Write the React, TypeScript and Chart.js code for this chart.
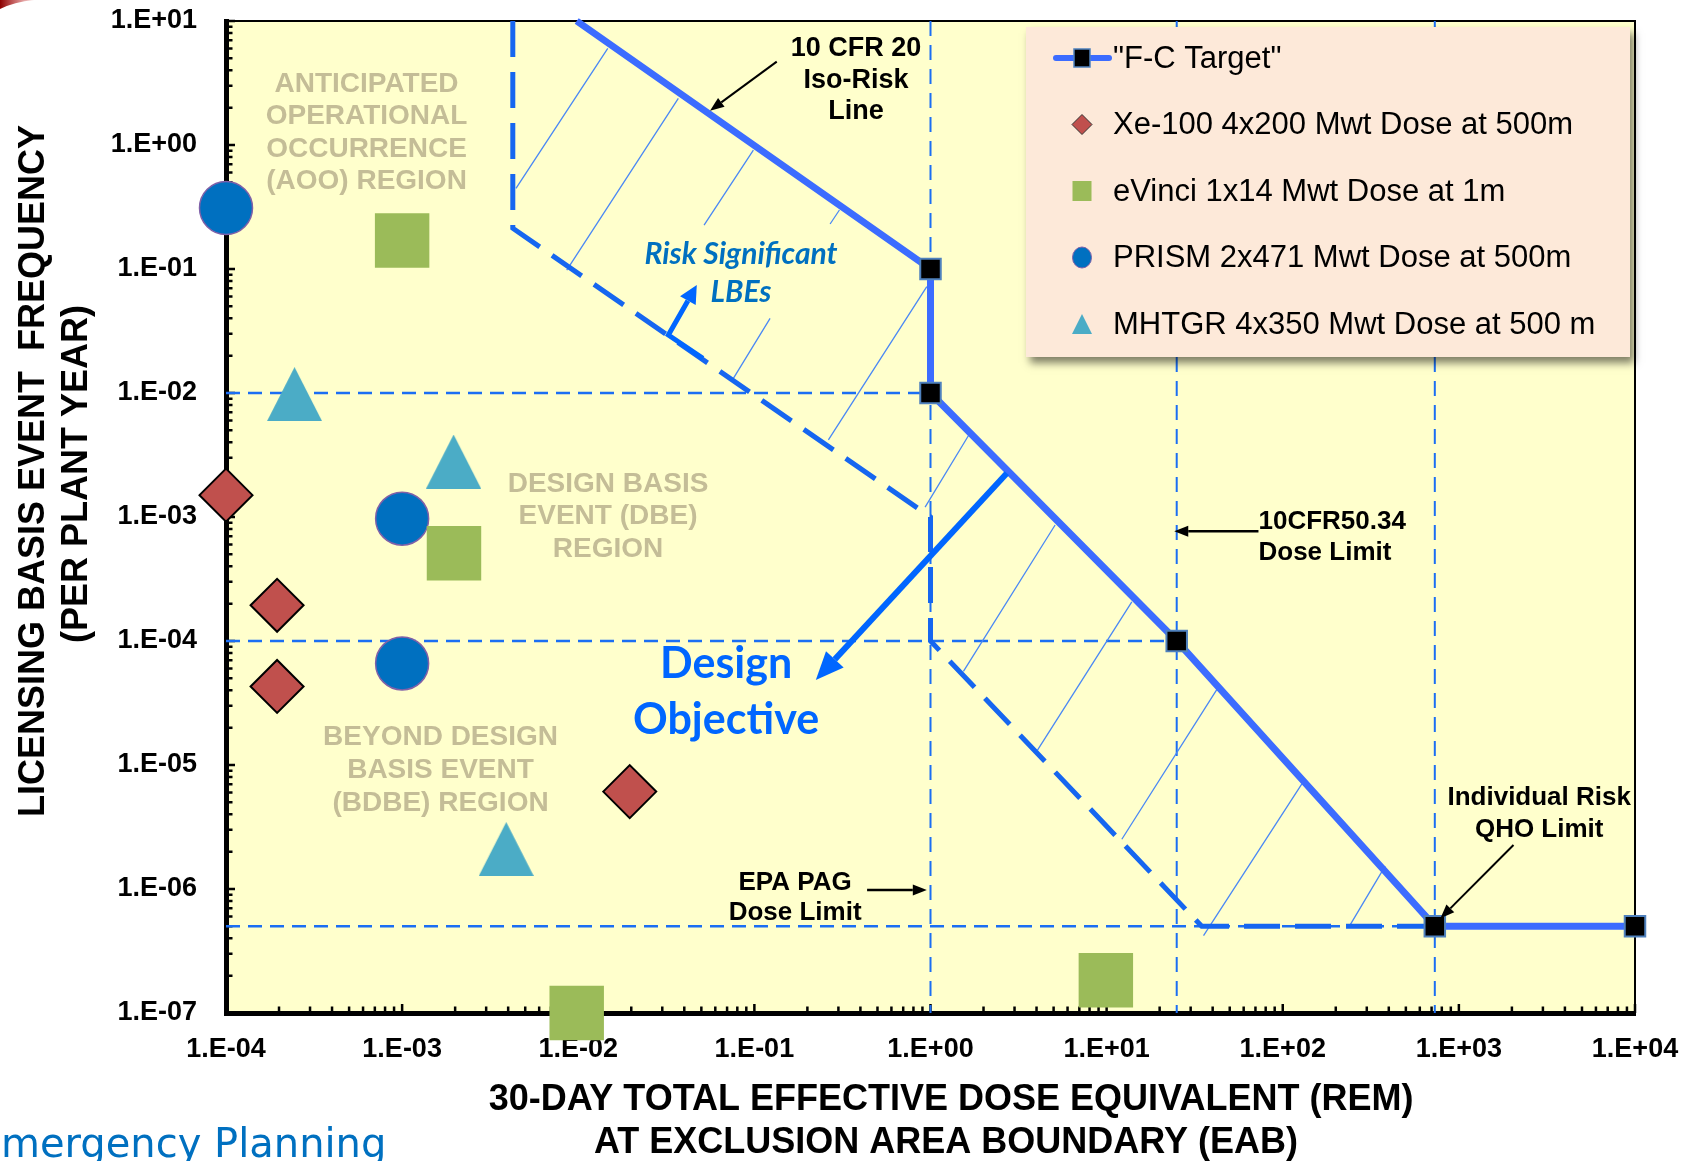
import React, { useEffect, useRef } from "react";
import { Chart, registerables } from "chart.js";

Chart.register(...registerables);

// ---------------- chart values ----------------
const X_TICK_VALUES = [1e-4, 1e-3, 1e-2, 1e-1, 1e0, 1e1, 1e2, 1e3, 1e4];
const Y_TICK_VALUES = [1e-7, 1e-6, 1e-5, 1e-4, 1e-3, 1e-2, 1e-1, 1e0, 1e1];

const FC_LABEL = '"F-C Target"';
const XE100_LABEL = "Xe-100 4x200 Mwt Dose at 500m";
const EVINCI_LABEL = "eVinci 1x14 Mwt Dose at 1m";
const PRISM_LABEL = "PRISM 2x471 Mwt Dose at 500m";
const MHTGR_LABEL = "MHTGR 4x350 Mwt Dose at 500 m";

const XE100_DOSE = [1e-4, 1.95e-4, 1.95e-4, 1.96e-2];
const XE100_FREQ = [1.5e-3, 1.94e-4, 4.3e-5, 6.1e-6];
const EVINCI_DOSE = [1e-3, 1.97e-3, 9.8e-3, 9.9];
const EVINCI_FREQ = [0.17, 5.1e-4, 1e-7, 1.84e-7];
const PRISM_DOSE = [1e-4, 1e-3, 1e-3];
const PRISM_FREQ = [0.31, 9.7e-4, 6.6e-5];
const MHTGR_DOSE = [2.45e-4, 1.96e-3, 3.9e-3];
const MHTGR_FREQ = [9.8e-3, 2.8e-3, 2.1e-6];

const FC_DOSE = [0.0098, 1, 1, 25, 730, 1e4];
const FC_FREQ = [10, 0.1, 0.01, 1e-4, 5e-7, 5e-7];
const FC_MARKER = [0, 1, 1, 1, 1, 1];

const RS_BOUNDARY_DOSE = [4.25e-3, 4.25e-3, 1, 1, 34.7, 730];
const RS_BOUNDARY_FREQ = [10, 0.213, 1e-3, 1e-4, 5e-7, 5e-7];

const HATCH_FROM_DOSE = [4.43e-3, 8.6e-3, 0.0518, 0.076, 0.2691, 0.2632, 0.9318, 1.538, 4.05, 12.2, 35.5, 241.4];
const HATCH_FROM_FREQ = [0.4475, 0.0981, 0.2263, 0.01314, 0.2306, 4.18e-3, 1.2e-3, 5.69e-5, 1.32e-5, 2.52e-6, 4.2e-7, 5.13e-7];
const HATCH_TO_DOSE = [0.01471, 0.037, 0.0987, 0.1228, 0.304, 0.9528, 1.641, 5.1, 13.9, 42.3, 128.4, 381.4];
const HATCH_TO_FREQ = [6.02, 2.38, 0.911, 0.04, 0.2991, 0.072, 4.52e-3, 8.62e-4, 2.07e-4, 4.08e-5, 7.04e-6, 1.53e-6];

const REF_FREQ_LEVELS = [1e-2, 1e-4, 5e-7];
const REF_FREQ_END_DOSE = [1, 25, 730];
const REF_DOSE_LEVELS = [1, 25, 730];

// ---------------- annotation texts & arrows (in data coordinates) ----------------
const SANS = '"Liberation Sans", Arial, Helvetica, sans-serif';
const HUMANIST = 'Lato, "Open Sans", sans-serif';

const NOTE_TEXTS = [
  { lines: ["10 CFR 20", "Iso-Risk", "Line"], dose: 0.378, freq: 5.22, step: 31.5, font: `bold 27px ${SANS}`, color: "#000", align: "center" },
  { lines: ["Risk Significant", "LBEs"], dose: 0.084, freq: 0.1091, step: 37.4, font: `italic bold 30px ${HUMANIST}`, color: "#0070C0", align: "center" },
  { lines: ["ANTICIPATED", "OPERATIONAL", "OCCURRENCE", "(AOO) REGION"], dose: 6.28e-4, freq: 2.69, step: 32.5, font: `bold 28px ${SANS}`, color: "#C4BD97", align: "center" },
  { lines: ["DESIGN BASIS", "EVENT (DBE)", "REGION"], dose: 0.01476, freq: 1.6e-3, step: 32.5, font: `bold 28px ${SANS}`, color: "#C4BD97", align: "center" },
  { lines: ["BEYOND DESIGN", "BASIS EVENT", "(BDBE) REGION"], dose: 1.652e-3, freq: 1.45e-5, step: 32.8, font: `bold 28px ${SANS}`, color: "#C4BD97", align: "center" },
  { lines: ["Design", "Objective"], dose: 0.0691, freq: 5.0e-5, step: 56, font: `bold 43px ${HUMANIST}`, color: "#0066FF", align: "center" },
  { lines: ["10CFR50.34", "Dose Limit"], dose: 72.8, freq: 8.06e-4, step: 31.4, font: `bold 26px ${SANS}`, color: "#000", align: "left" },
  { lines: ["EPA PAG", "Dose Limit"], dose: 0.1703, freq: 9.8e-7, step: 30, font: `bold 26px ${SANS}`, color: "#000", align: "center" },
  { lines: ["Individual Risk", "QHO Limit"], dose: 2858, freq: 4.76e-6, step: 31.7, font: `bold 26px ${SANS}`, color: "#000", align: "center" },
];

const NOTE_ARROWS = [
  { path: [[0.134, 4.7], [0.056, 1.89]], width: 2, color: "#000", head: 14, headW: 11 },
  { path: [[0.051, 0.01905], [0.03248, 0.02936], [0.0471, 0.0743]], width: 5, color: "#0066FF", head: 18, headW: 18 },
  { path: [[2.713, 2.25e-3], [0.2233, 4.85e-5]], width: 6, color: "#0066FF", head: 28, headW: 24 },
  { path: [[72.8, 7.66e-4], [24.2, 7.66e-4]], width: 2.5, color: "#000", head: 14, headW: 11 },
  { path: [[0.4365, 9.8e-7], [0.953, 9.8e-7]], width: 2.5, color: "#000", head: 14, headW: 11 },
  { path: [[2042, 2.265e-6], [786, 5.8e-7]], width: 2, color: "#000", head: 14, headW: 11 },
];

const X_TITLE = ["30-DAY TOTAL EFFECTIVE DOSE EQUIVALENT (REM)", "AT EXCLUSION AREA BOUNDARY (EAB)"];
const Y_TITLE = ["LICENSING BASIS EVENT  FREQUENCY", "(PER PLANT YEAR)"];
const FOOTER_TEXT = "Emergency Planning";

// ---------------- colours ----------------
const COL_FC = "#3C6CFF";
const COL_DASH = "#1B6EF3";
const COL_BOUND = "#1666F0";
const COL_HATCH = "#4A88F5";
const COL_XE = "#C0504D";
const COL_EV = "#9BBB59";
const COL_PRISM = "#0070C0";
const COL_MHTGR = "#4BACC6";

const W = 1688;
const H = 1161;

const fmtTick = (v: number) => {
  const e = Math.round(Math.log10(v));
  return `1.E${e < 0 ? "-" : "+"}${String(Math.abs(e)).padStart(2, "0")}`;
};

const pairs = (xs: number[], ys: number[]) => xs.map((x, i) => ({ x, y: ys[i] }));
const segs = (x1: number[], y1: number[], x2: number[], y2: number[]) =>
  x1.flatMap((x, i) => [
    { x, y: y1[i] },
    { x: x2[i], y: y2[i] },
    { x: x2[i], y: null as any },
  ]);

function triangleCanvas(w: number, h: number, color: string) {
  const c = document.createElement("canvas");
  c.width = w;
  c.height = h;
  const g = c.getContext("2d")!;
  g.fillStyle = color;
  g.beginPath();
  g.moveTo(w / 2, 0);
  g.lineTo(w, h);
  g.lineTo(0, h);
  g.closePath();
  g.fill();
  return c;
}

function drawArrow(ctx: CanvasRenderingContext2D, pts: number[][], width: number, color: string, head: number, headW: number) {
  const n = pts.length;
  const [x2, y2] = pts[n - 1];
  const [x1, y1] = pts[n - 2];
  const ang = Math.atan2(y2 - y1, x2 - x1);
  const bx = x2 - head * Math.cos(ang);
  const by = y2 - head * Math.sin(ang);
  ctx.save();
  ctx.strokeStyle = color;
  ctx.fillStyle = color;
  ctx.lineWidth = width;
  ctx.lineJoin = "miter";
  ctx.beginPath();
  ctx.moveTo(pts[0][0], pts[0][1]);
  for (let i = 1; i < n - 1; i++) ctx.lineTo(pts[i][0], pts[i][1]);
  ctx.lineTo(bx, by);
  ctx.stroke();
  ctx.beginPath();
  ctx.moveTo(x2, y2);
  ctx.lineTo(bx + (headW / 2) * Math.sin(ang), by - (headW / 2) * Math.cos(ang));
  ctx.lineTo(bx - (headW / 2) * Math.sin(ang), by + (headW / 2) * Math.cos(ang));
  ctx.closePath();
  ctx.fill();
  ctx.restore();
}

function legendMarker(ctx: CanvasRenderingContext2D, kind: string, x: number, y: number) {
  ctx.save();
  if (kind === "fc") {
    ctx.strokeStyle = COL_FC;
    ctx.lineWidth = 6;
    ctx.lineCap = "round";
    ctx.beginPath();
    ctx.moveTo(x - 26, y);
    ctx.lineTo(x + 27, y);
    ctx.stroke();
    ctx.fillStyle = "#000";
    ctx.fillRect(x - 8, y - 9, 16, 18);
    ctx.strokeStyle = "#4F81BD";
    ctx.lineWidth = 1.5;
    ctx.strokeRect(x - 8, y - 9, 16, 18);
  } else if (kind === "diamond") {
    ctx.fillStyle = COL_XE;
    ctx.strokeStyle = "#333";
    ctx.lineWidth = 1;
    ctx.beginPath();
    ctx.moveTo(x, y - 10);
    ctx.lineTo(x + 10, y);
    ctx.lineTo(x, y + 10);
    ctx.lineTo(x - 10, y);
    ctx.closePath();
    ctx.fill();
    ctx.stroke();
  } else if (kind === "square") {
    ctx.fillStyle = COL_EV;
    ctx.fillRect(x - 9.5, y - 10, 19, 20);
  } else if (kind === "circle") {
    ctx.fillStyle = COL_PRISM;
    ctx.strokeStyle = "#7F60A8";
    ctx.lineWidth = 1;
    ctx.beginPath();
    ctx.ellipse(x, y, 9.5, 10.5, 0, 0, Math.PI * 2);
    ctx.fill();
    ctx.stroke();
  } else if (kind === "triangle") {
    ctx.fillStyle = COL_MHTGR;
    ctx.beginPath();
    ctx.moveTo(x, y - 10);
    ctx.lineTo(x + 10, y + 10);
    ctx.lineTo(x - 10, y + 10);
    ctx.closePath();
    ctx.fill();
  }
  ctx.restore();
}

const decorPlugin = {
  id: "decor",
  beforeDraw(chart: any) {
    const { ctx, chartArea: a } = chart;
    ctx.save();
    ctx.fillStyle = "#ffffff";
    ctx.fillRect(0, 0, chart.width, chart.height);
    ctx.fillStyle = "#FFFFCC";
    ctx.fillRect(a.left, a.top, a.right - a.left, a.bottom - a.top);
    ctx.restore();
  },
  beforeDatasetsDraw(chart: any) {
    const { ctx, chartArea: a, scales } = chart;
    const xs = scales.x;
    const ys = scales.y;
    ctx.save();
    // thin top / right frame
    ctx.strokeStyle = "#000";
    ctx.lineWidth = 2;
    ctx.beginPath();
    ctx.moveTo(a.left, a.top);
    ctx.lineTo(a.right, a.top);
    ctx.lineTo(a.right, a.bottom);
    ctx.stroke();
    // inward tick marks
    ctx.lineWidth = 2.5;
    ctx.beginPath();
    for (let i = 0; i < X_TICK_VALUES.length; i++) {
      const v = X_TICK_VALUES[i];
      const px = xs.getPixelForValue(v);
      ctx.moveTo(px, a.bottom);
      ctx.lineTo(px, a.bottom - 9);
      if (i < X_TICK_VALUES.length - 1) {
        for (let m = 2; m <= 9; m++) {
          const p = xs.getPixelForValue(v * m);
          ctx.moveTo(p, a.bottom);
          ctx.lineTo(p, a.bottom - 6.5);
        }
      }
    }
    for (let i = 0; i < Y_TICK_VALUES.length; i++) {
      const v = Y_TICK_VALUES[i];
      const py = ys.getPixelForValue(v);
      ctx.moveTo(a.left, py);
      ctx.lineTo(a.left + 9, py);
      if (i < Y_TICK_VALUES.length - 1) {
        for (let m = 2; m <= 9; m++) {
          const p = ys.getPixelForValue(v * m);
          ctx.moveTo(a.left, p);
          ctx.lineTo(a.left + 6.5, p);
        }
      }
    }
    ctx.stroke();
    ctx.restore();
  },
  afterDatasetsDraw(chart: any) {
    const { ctx, chartArea: a, scales } = chart;
    const xs = scales.x;
    const ys = scales.y;
    const X = (v: number) => xs.getPixelForValue(v);
    const Y = (v: number) => ys.getPixelForValue(v);

    // ---- legend ----
    const lx = a.right - 609;
    const ly = a.top + 6;
    const lw = 604;
    const lh = 330;
    ctx.save();
    ctx.shadowColor = "rgba(0,0,0,0.5)";
    ctx.shadowBlur = 8;
    ctx.shadowOffsetX = 4;
    ctx.shadowOffsetY = 6;
    ctx.fillStyle = "#FDE9D9";
    ctx.fillRect(lx, ly, lw, lh);
    ctx.restore();
    const legendItems = chart.data.datasets
      .filter((d: any) => d.legendKind)
      .sort((p: any, q: any) => p.legendRank - q.legendRank);
    ctx.save();
    ctx.font = `31px ${SANS}`;
    ctx.fillStyle = "#000";
    ctx.textAlign = "left";
    ctx.textBaseline = "middle";
    legendItems.forEach((d: any, i: number) => {
      const ry = ly + 31 + i * 66.5;
      legendMarker(ctx, d.legendKind, lx + 56, ry);
      ctx.fillText(d.label, lx + 87, ry + 1);
    });
    ctx.restore();

    // ---- arrows ----
    NOTE_ARROWS.forEach((ar) => {
      const pts = ar.path.map(([dx, fy]) => [X(dx), Y(fy)]);
      drawArrow(ctx, pts, ar.width, ar.color, ar.head, ar.headW);
    });

    // ---- texts ----
    NOTE_TEXTS.forEach((t) => {
      ctx.save();
      ctx.font = t.font;
      ctx.fillStyle = t.color;
      ctx.textAlign = t.align as CanvasTextAlign;
      ctx.textBaseline = "alphabetic";
      const x0 = X(t.dose);
      const y0 = Y(t.freq);
      t.lines.forEach((s, i) => ctx.fillText(s, x0, y0 + i * t.step));
      ctx.restore();
    });

    // ---- axis titles ----
    ctx.save();
    ctx.fillStyle = "#000";
    ctx.font = `bold 36px ${SANS}`;
    ctx.textAlign = "center";
    ctx.textBaseline = "middle";
    ctx.fillText(X_TITLE[0], 951, 1100);
    ctx.fillText(X_TITLE[1], 946, 1143);
    ctx.save();
    ctx.translate(34, 471);
    ctx.rotate(-Math.PI / 2);
    ctx.fillText(Y_TITLE[0], 0, 0);
    ctx.restore();
    ctx.save();
    ctx.translate(77, 474);
    ctx.rotate(-Math.PI / 2);
    ctx.fillText(Y_TITLE[1], 0, 0);
    ctx.restore();
    ctx.restore();

    // ---- footer text (cropped in the source) ----
    ctx.save();
    ctx.font = `40px "DejaVu Sans", sans-serif`;
    ctx.fillStyle = "#0070C0";
    ctx.textAlign = "left";
    ctx.textBaseline = "alphabetic";
    const eW = ctx.measureText("E").width;
    ctx.fillText(FOOTER_TEXT, -eW + 1, 1157);
    ctx.restore();

    // ---- cropped red logo sliver at top-left ----
    ctx.save();
    const grd = ctx.createLinearGradient(0, 0, 32, 0);
    grd.addColorStop(0, "#8B0000");
    grd.addColorStop(1, "rgba(200,30,30,0.2)");
    ctx.fillStyle = grd;
    ctx.beginPath();
    ctx.moveTo(0, 0);
    ctx.lineTo(34, 0);
    ctx.quadraticCurveTo(14, 2, 0, 9);
    ctx.closePath();
    ctx.fill();
    ctx.restore();
  },
};

const zeroPadding = (s: any) => {
  s.paddingTop = 0;
  s.paddingBottom = 0;
  s.paddingLeft = 0;
  s.paddingRight = 0;
};

function buildConfig() {
  const tri = triangleCanvas(55, 54, COL_MHTGR);
  const datasets: any[] = [
    {
      label: XE100_LABEL,
      legendKind: "diamond",
      legendRank: 1,
      data: pairs(XE100_DOSE, XE100_FREQ),
      pointStyle: "rectRot",
      pointRadius: 26.5,
      backgroundColor: COL_XE,
      borderColor: "#000",
      borderWidth: 2,
      showLine: false,
      clip: false,
      order: 0,
    },
    {
      label: EVINCI_LABEL,
      legendKind: "square",
      legendRank: 2,
      data: pairs(EVINCI_DOSE, EVINCI_FREQ),
      pointStyle: "rect",
      pointRadius: 38.5,
      backgroundColor: COL_EV,
      borderColor: COL_EV,
      borderWidth: 0,
      showLine: false,
      clip: false,
      order: 0,
    },
    {
      label: PRISM_LABEL,
      legendKind: "circle",
      legendRank: 3,
      data: pairs(PRISM_DOSE, PRISM_FREQ),
      pointStyle: "circle",
      pointRadius: 26.5,
      backgroundColor: COL_PRISM,
      borderColor: "#7F60A8",
      borderWidth: 1.5,
      showLine: false,
      clip: false,
      order: 0,
    },
    {
      label: MHTGR_LABEL,
      legendKind: "triangle",
      legendRank: 4,
      data: pairs(MHTGR_DOSE, MHTGR_FREQ),
      pointStyle: tri,
      pointRadius: 27,
      backgroundColor: COL_MHTGR,
      borderColor: COL_MHTGR,
      showLine: false,
      clip: false,
      order: 0,
    },
    {
      label: FC_LABEL,
      legendKind: "fc",
      legendRank: 0,
      data: pairs(FC_DOSE, FC_FREQ),
      showLine: true,
      borderColor: COL_FC,
      borderWidth: 7,
      pointStyle: "rect",
      pointRadius: FC_MARKER.map((m) => m * 14.5),
      pointBackgroundColor: "#000",
      pointBorderColor: "#4F81BD",
      pointBorderWidth: 2,
      clip: false,
      order: 1,
    },
    {
      label: "Risk significant boundary",
      data: pairs(RS_BOUNDARY_DOSE, RS_BOUNDARY_FREQ),
      showLine: true,
      borderColor: COL_BOUND,
      borderWidth: 5,
      borderDash: [36, 15],
      pointRadius: 0,
      order: 2,
    },
    {
      label: "Hatching",
      data: segs(HATCH_FROM_DOSE, HATCH_FROM_FREQ, HATCH_TO_DOSE, HATCH_TO_FREQ),
      showLine: true,
      spanGaps: false,
      borderColor: COL_HATCH,
      borderWidth: 1.3,
      pointRadius: 0,
      order: 3,
    },
    {
      label: "Frequency limits",
      data: segs(
        REF_FREQ_LEVELS.map(() => X_TICK_VALUES[0]),
        REF_FREQ_LEVELS,
        REF_FREQ_END_DOSE,
        REF_FREQ_LEVELS
      ),
      showLine: true,
      spanGaps: false,
      borderColor: COL_DASH,
      borderWidth: 2.5,
      borderDash: [14, 8],
      pointRadius: 0,
      order: 4,
    },
    {
      label: "Dose limits",
      data: segs(
        REF_DOSE_LEVELS,
        REF_DOSE_LEVELS.map(() => Y_TICK_VALUES[Y_TICK_VALUES.length - 1]),
        REF_DOSE_LEVELS,
        REF_DOSE_LEVELS.map(() => Y_TICK_VALUES[0])
      ),
      showLine: true,
      spanGaps: false,
      borderColor: COL_DASH,
      borderWidth: 2,
      borderDash: [15, 9],
      pointRadius: 0,
      order: 4,
    },
  ];

  return {
    type: "scatter",
    data: { datasets },
    plugins: [decorPlugin],
    options: {
      responsive: false,
      animation: false,
      devicePixelRatio: 1,
      events: [],
      layout: { autoPadding: false, padding: { top: 21, right: 53, bottom: 0, left: 0 } },
      plugins: {
        legend: { display: false },
        tooltip: { enabled: false },
        title: { display: false },
      },
      scales: {
        x: {
          type: "logarithmic",
          position: "bottom",
          min: X_TICK_VALUES[0],
          max: X_TICK_VALUES[X_TICK_VALUES.length - 1],
          afterBuildTicks: (s: any) => {
            s.ticks = X_TICK_VALUES.map((value) => ({ value }));
          },
          afterFit: (s: any) => {
            s.height = H - 1013;
            zeroPadding(s);
          },
          grid: { display: false, drawTicks: false },
          border: { display: true, color: "#000", width: 5 },
          ticks: {
            autoSkip: false,
            maxRotation: 0,
            padding: 20,
            color: "#000",
            font: { family: SANS, size: 27, weight: "bold" },
            callback: (v: any) => fmtTick(Number(v)),
          },
          title: { display: false },
        },
        y: {
          type: "logarithmic",
          position: "left",
          min: Y_TICK_VALUES[0],
          max: Y_TICK_VALUES[Y_TICK_VALUES.length - 1],
          afterBuildTicks: (s: any) => {
            s.ticks = Y_TICK_VALUES.map((value) => ({ value }));
          },
          afterFit: (s: any) => {
            s.width = 226;
            zeroPadding(s);
          },
          grid: { display: false, drawTicks: false },
          border: { display: true, color: "#000", width: 5 },
          ticks: {
            autoSkip: false,
            padding: 29,
            color: "#000",
            font: { family: SANS, size: 27, weight: "bold" },
            callback: (v: any) => fmtTick(Number(v)),
          },
          title: { display: false },
        },
      },
    },
  };
}

export default function App() {
  const canvasRef = useRef<HTMLCanvasElement | null>(null);
  useEffect(() => {
    document.body.style.margin = "0";
    const canvas = canvasRef.current;
    if (!canvas) return;
    const chart = new Chart(canvas, buildConfig() as any);
    return () => chart.destroy();
  }, []);
  return (
    <div style={{ width: W, height: H, position: "relative", overflow: "hidden", background: "#fff" }}>
      <canvas ref={canvasRef} width={W} height={H} style={{ display: "block", width: W, height: H }} />
    </div>
  );
}
